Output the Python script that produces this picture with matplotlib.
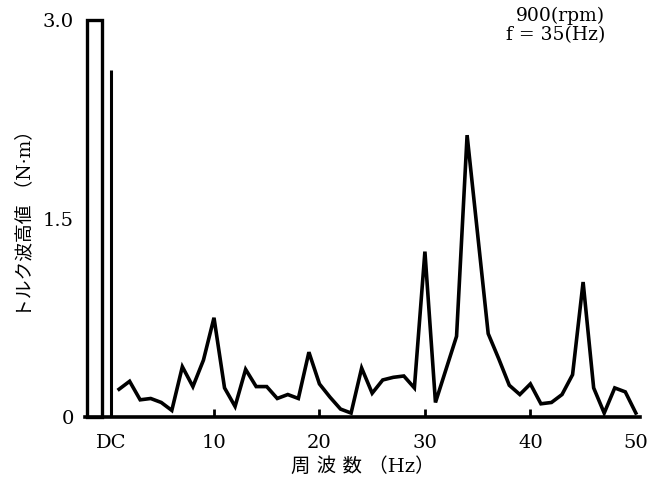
import matplotlib.pyplot as plt
import matplotlib.patches as patches

plt.rcParams['font.family'] = ['DejaVu Serif', 'Noto Sans CJK JP', 'DejaVu Sans']

# torque ripple spectrum, 1..50 Hz
freq = list(range(1, 51))
amp = [0.21, 0.27, 0.13, 0.14, 0.11, 0.05, 0.38, 0.23, 0.43, 0.75,
       0.22, 0.08, 0.36, 0.23, 0.23, 0.14, 0.17, 0.14, 0.49, 0.25,
       0.15, 0.06, 0.03, 0.37, 0.18, 0.28, 0.30, 0.31, 0.22, 1.25,
       0.11, 0.36, 0.61, 2.13, 1.38, 0.63, 0.44, 0.24, 0.17, 0.25,
       0.10, 0.11, 0.17, 0.32, 1.02, 0.22, 0.03, 0.22, 0.19, 0.03]

# DC component (off scale) and the line next to it
dc_left, dc_right = -2.04, -0.62
dc_value = 3.0
dc2_freq = 0.25
dc2_value = 2.62

xticks = [0.3, 10, 20, 30, 40, 50]
xticklabels = ['DC', '10', '20', '30', '40', '50']
yticks = [0, 1.5, 3.0]
yticklabels = ['0', '1.5', '3.0']

fig = plt.figure(figsize=(6.61, 4.83), dpi=100)
ax = fig.add_axes([0.1286, 0.1366, 0.968 - 0.1286, 0.9586 - 0.1366])

ax.plot(freq, amp, color='black', lw=2.6, solid_joinstyle='miter', clip_on=False)

rect = patches.Rectangle((dc_left, 0), dc_right - dc_left, dc_value,
                         fill=False, edgecolor='black', lw=2.4, clip_on=False)
ax.add_patch(rect)
ax.plot([dc2_freq, dc2_freq], [0, dc2_value], color='black', lw=2.2,
        solid_capstyle='butt')

ax.set_xlim(-2.23, 50.38)
ax.set_ylim(0, 3.0)

for s in ['left', 'right', 'top']:
    ax.spines[s].set_visible(False)
ax.spines['bottom'].set_linewidth(2.6)

# inward tick marks on the frequency axis
for t in [10, 20, 30, 40]:
    ax.plot([t, t], [0, 0.06], color='black', lw=2.0, solid_capstyle='butt')

ax.set_xticks(xticks)
ax.set_xticklabels(xticklabels, fontsize=14)
ax.tick_params(axis='x', length=0, pad=12)
ax.set_yticks(yticks)
ax.set_yticklabels(yticklabels, fontsize=14)
ax.tick_params(axis='y', length=0, pad=8)

ax.set_xlabel('周 波 数 （Hz）', fontsize=14, labelpad=4)
ax.set_ylabel('トルク波高値 （N·m）', fontsize=13.5, labelpad=6)

fig.text(0.916, 0.985, '900(rpm)\nf = 35(Hz)', ha='right', va='top',
         fontsize=13.5, linespacing=1.05)

fig.savefig('out.png', dpi=100)
